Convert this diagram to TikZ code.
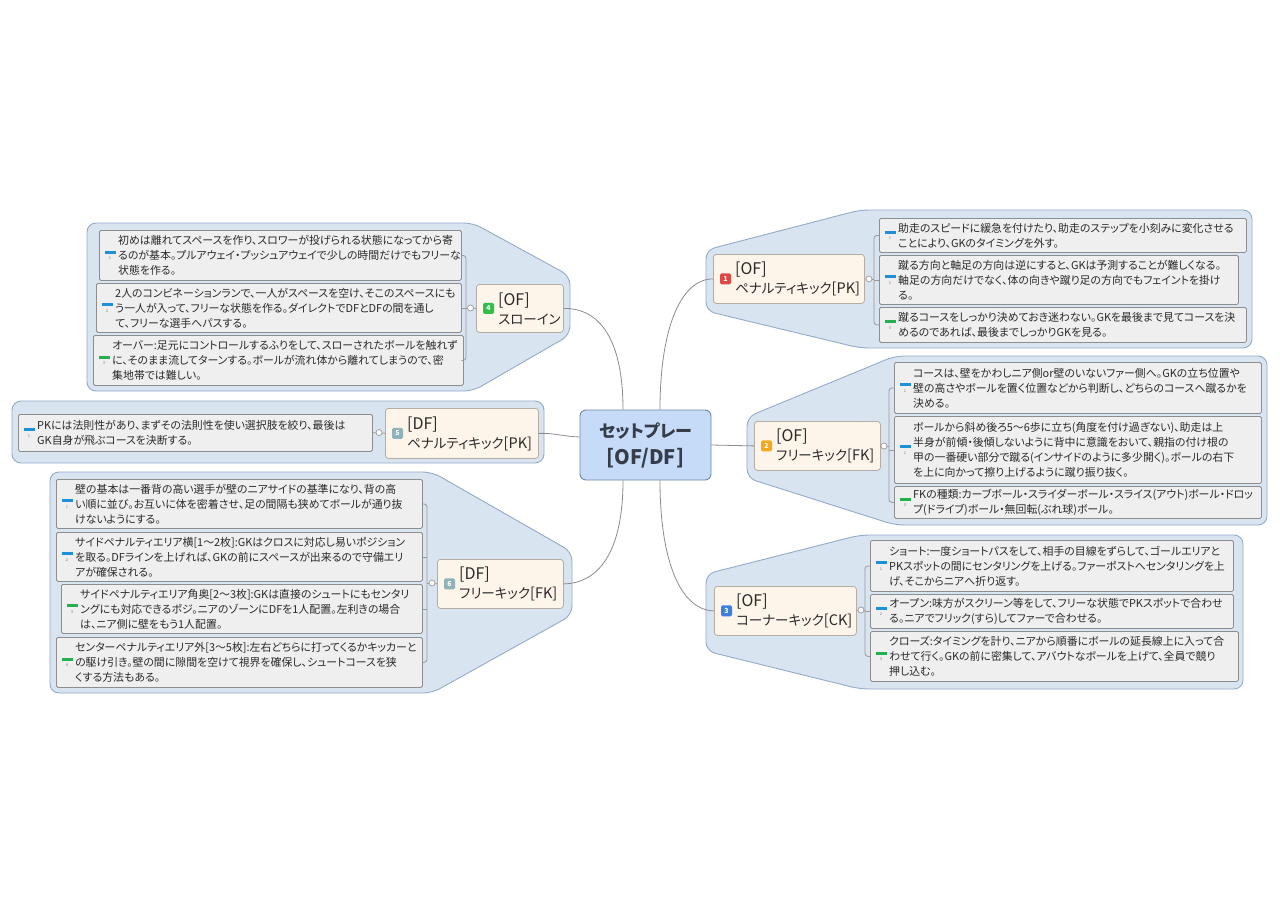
\documentclass[tikz,border=0pt]{standalone}
\usepackage{fontspec}
\setmainfont{Noto Sans CJK JP}[RawFeature={+palt}]
\usetikzlibrary{calc}
\definecolor{bndfill}{HTML}{D9E4F1}
\definecolor{bndline}{HTML}{93ABC8}
\definecolor{cfill}{HTML}{C6DBF8}
\definecolor{cline}{HTML}{6D87A8}
\definecolor{tfill}{HTML}{FDF4EA}
\definecolor{tline}{HTML}{B5ACA3}
\definecolor{sfill}{HTML}{EFEFEF}
\definecolor{sline}{HTML}{8E8E8E}
\definecolor{txt}{HTML}{2A2A2A}
\definecolor{ctxt}{HTML}{353D4A}
\definecolor{connc}{HTML}{8C8C8C}
\definecolor{brkc}{HTML}{9A9A9A}
\definecolor{barblue}{HTML}{1E90D8}
\definecolor{bargreen}{HTML}{22B14C}
\definecolor{icred}{HTML}{E04848}
\definecolor{icorange}{HTML}{F2A81D}
\definecolor{icblue}{HTML}{3D7EE0}
\definecolor{icgreen}{HTML}{2FBF4A}
\definecolor{icteal}{HTML}{8FB3B8}
\tikzset{
  bnd/.style={draw=bndline, fill=bndfill, line width=0.9pt, rounded corners=9pt},
  central/.style={draw=cline, fill=cfill, rounded corners=6pt, line width=0.9pt, inner sep=0pt,
    align=center, text=ctxt, font=\fontsize{17}{27}\selectfont\bfseries},
  topic/.style={draw=tline, fill=tfill, rounded corners=3pt, line width=0.8pt, inner sep=0pt},
  subbox/.style={draw=sline, fill=sfill, rounded corners=1.5pt, line width=0.8pt, inner sep=0pt},
  subtext/.style={align=left, font=\fontsize{10.9}{15}\selectfont, text=txt, inner sep=0pt},
  topictext/.style={align=left, font=\fontsize{13.5}{19}\selectfont, text=txt, inner sep=0pt},
  tico/.style={rounded corners=1.5pt, minimum size=11pt, inner sep=0pt, text=white,
    font=\fontsize{7}{7}\selectfont\bfseries},
  ibar/.style={minimum width=11pt, minimum height=3pt, inner sep=0pt},
  inum/.style={font=\fontsize{4}{4}\selectfont, text=gray, inner sep=0pt},
  conn/.style={draw=connc, line width=0.8pt},
  brk/.style={draw=brkc, line width=0.8pt, rounded corners=3pt},
  knob/.style={circle, draw=brkc, fill=white, minimum size=6pt, inner sep=0pt, line width=0.7pt},
}
\newcommand\tbig{\fontsize{16}{19}\selectfont}
\newcommand\tmid{\fontsize{14.5}{19}\selectfont}
\newcommand\mytopic[8]{%
  \node[topic, minimum width={#4-#2}, minimum height={#5-#3}, anchor=north west] (#1) at (#2,#3) {};
  \node[tico, fill=#6] (#1i) at ([xshift=12.5pt]#1.west) {#7};
  \node[topictext, anchor=west] (#1t) at ([xshift=22pt]#1.west) {#8};
}
\newcommand\mysub[8]{%
  \node[subbox, minimum width={#4-#2}, minimum height={#5-#3}, anchor=north west] (#1) at (#2,#3) {};
  \node[ibar, fill=#6] (#1b) at ([xshift=11pt,yshift=3pt]#1.west) {};
  \node[inum] (#1n) at ([xshift=11pt,yshift=-3pt]#1.west) {#7};
  \node[subtext, anchor=west] (#1t) at ([xshift=19pt]#1.west) {#8};
}
\begin{document}
\begin{tikzpicture}[x=1pt,y=-1pt]
\useasboundingbox (0,0) rectangle (1280,905);
\fill[white] (0,0) rectangle (1280,905);

% boundaries
\draw[bnd] (706,250) -- (860,210) -- (1252,210) -- (1252,348) -- (860,348) -- (706,311) -- cycle;
\draw[bnd] (747,417) -- (895,356) -- (1267,356) -- (1267,525) -- (895,525) -- (747,478) -- cycle;
\draw[bnd] (706,574) -- (860,535) -- (1243,535) -- (1243,689) -- (860,689) -- (706,651) -- cycle;
\draw[bnd] (87,223) -- (473,223) -- (570,276) -- (570,335) -- (473,391) -- (87,391) -- cycle;
\draw[bnd] (12,401) rectangle (544,463);
\draw[bnd] (50,472) -- (432,472) -- (572,552) -- (572,615) -- (432,693) -- (50,693) -- cycle;

% central
\node[central, minimum width=131pt, minimum height=70pt] (c) at (645.5,445) {セットプレー\\{}{\fontsize{20}{27}\selectfont[OF/DF]}};

% topics
\mytopic{t1}{713}{254}{864}{303}{icred}{1}{{\tbig[OF]}\\ペナルティキック{\tmid[PK]}}
\mytopic{t2}{754}{421}{880}{470}{icorange}{2}{{\tbig[OF]}\\フリーキック{\tmid[FK]}}
\mytopic{t3}{714}{586}{856}{635}{icblue}{3}{{\tbig[OF]}\\コーナーキック{\tmid[CK]}}
\mytopic{t4}{476}{284}{563}{332}{icgreen}{4}{{\tbig[OF]}\\スローイン}
\mytopic{t5}{385}{408}{538}{458}{icteal}{5}{{\tbig[DF]}\\ペナルティキック{\tmid[PK]}}
\mytopic{t6}{437}{559}{563}{608}{icteal}{6}{{\tbig[DF]}\\フリーキック{\tmid[FK]}}

% subtopics branch 1
\mysub{s11}{879}{218}{1246}{252}{barblue}{1}{助走のスピードに緩急を付けたり、助走のステップを小刻みに変化させる\\ことにより、GKのタイミングを外す。}
\mysub{s12}{879}{255}{1238}{304}{barblue}{2}{蹴る方向と軸足の方向は逆にすると、GKは予測することが難しくなる。\\軸足の方向だけでなく、体の向きや蹴り足の方向でもフェイントを掛け\\る。}
\mysub{s13}{879}{307}{1246}{342}{bargreen}{3}{蹴るコースをしっかり決めておき迷わない。GKを最後まで見てコースを決\\めるのであれば、最後までしっかりGKを見る。}

% subtopics branch 2
\mysub{s21}{894}{362}{1261}{413}{barblue}{1}{コースは、壁をかわしニア側or壁のいないファー側へ。GKの立ち位置や\\壁の高さやボールを置く位置などから判断し、どちらのコースへ蹴るかを\\決める。}
\mysub{s22}{894}{416}{1261}{483}{barblue}{2}{ボールから斜め後ろ5～6歩に立ち(角度を付け過ぎない)、助走は上\\半身が前傾・後傾しないように背中に意識をおいて、親指の付け根の\\甲の一番硬い部分で蹴る(インサイドのように多少開く)。ボールの右下\\を上に向かって擦り上げるように蹴り振り抜く。}
\mysub{s23}{894}{486}{1261}{518}{bargreen}{3}{FKの種類:カーブボール・スライダーボール・スライス(アウト)ボール・ドロッ\\プ(ドライブ)ボール・無回転(ぶれ球)ボール。}

% subtopics branch 3
\mysub{s31}{870}{540}{1233}{591}{barblue}{1}{ショート:一度ショートパスをして、相手の目線をずらして、ゴールエリアと\\PKスポットの間にセンタリングを上げる。ファーポストへセンタリングを上\\げ、そこからニアへ折り返す。}
\mysub{s32}{870}{594}{1233}{628}{barblue}{2}{オープン:味方がスクリーン等をして、フリーな状態でPKスポットで合わせ\\る。ニアでフリック(すら)してファーで合わせる。}
\mysub{s33}{870}{631}{1238}{681}{bargreen}{3}{クローズ:タイミングを計り、ニアから順番にボールの延長線上に入って合\\わせて行く。GKの前に密集して、アバウトなボールを上げて、全員で競り\\押し込む。}

% subtopics branch 4
\mysub{s41}{99}{230}{461}{280}{barblue}{1}{初めは離れてスペースを作り、スロワーが投げられる状態になってから寄\\るのが基本。プルアウェイ・プッシュアウェイで少しの時間だけでもフリーな\\状態を作る。}
\mysub{s42}{96}{283}{461}{332}{barblue}{2}{2人のコンビネーションランで、一人がスペースを空け、そこのスペースにも\\う一人が入って、フリーな状態を作る。ダイレクトでDFとDFの間を通し\\て、フリーな選手へパスする。}
\mysub{s43}{93}{335}{463}{385}{bargreen}{3}{オーバー:足元にコントロールするふりをして、スローされたボールを触れず\\に、そのまま流してターンする。ボールが流れ体から離れてしまうので、密\\集地帯では難しい。}

% subtopic branch 5
\mysub{s51}{18}{414}{372}{451}{barblue}{1}{PKには法則性があり、まずその法則性を使い選択肢を絞り、最後は\\GK自身が飛ぶコースを決断する。}

% subtopics branch 6
\mysub{s61}{56}{479}{422}{528}{barblue}{1}{壁の基本は一番背の高い選手が壁のニアサイドの基準になり、背の高\\い順に並び。お互いに体を密着させ、足の間隔も狭めてボールが通り抜\\けないようにする。}
\mysub{s62}{56}{532}{422}{581}{barblue}{2}{サイドペナルティエリア横[1～2枚]:GKはクロスに対応し易いポジション\\を取る。DFラインを上げれば、GKの前にスペースが出来るので守備エリ\\アが確保される。}
\mysub{s63}{61}{584}{422}{633}{bargreen}{3}{サイドペナルティエリア角奥[2～3枚]:GKは直接のシュートにもセンタリ\\ングにも対応できるポジ。ニアのゾーンにDFを1人配置。左利きの場合\\は、ニア側に壁をもう1人配置。}
\mysub{s64}{56}{637}{422}{687}{bargreen}{4}{センターペナルティエリア外[3～5枚]:左右どちらに打ってくるかキッカーと\\の駆け引き。壁の間に隙間を空けて視界を確保し、シュートコースを狭\\くする方法もある。}

% brackets and knobs
\coordinate (b1) at (874,279);
\node[knob] (k1) at (869,279) {};
\draw[brk] (s11.west) -| (b1) |- (s13.west);
\draw[brk] (b1 |- s12.west) -- (s12.west);
\draw[brk] (t1.east) -- (k1);
\draw[brk] (k1) -- (b1);

\coordinate (b2) at (889,446);
\node[knob] (k2) at (884,446) {};
\draw[brk] (s21.west) -| (b2) |- (s23.west);
\draw[brk] (b2 |- s22.west) -- (s22.west);
\draw[brk] (t2.east) -- (k2);
\draw[brk] (k2) -- (b2);

\coordinate (b3) at (865,610);
\node[knob] (k3) at (861,610) {};
\draw[brk] (s31.west) -| (b3) |- (s33.west);
\draw[brk] (b3 |- s32.west) -- (s32.west);
\draw[brk] (t3.east) -- (k3);
\draw[brk] (k3) -- (b3);

\coordinate (b4) at (466,308);
\node[knob] (k4) at (470.5,308) {};
\draw[brk] (s41.east) -| (b4) |- (s43.east);
\draw[brk] (b4 |- s42.east) -- (s42.east);
\draw[brk] (t4.west) -- (k4);
\draw[brk] (k4) -- (b4);

\node[knob] (k5) at (379,432.5) {};
\draw[brk] (s51.east) -- (k5);
\draw[brk] (k5) -- (t5.west);

\coordinate (b6) at (427,583);
\node[knob] (k6) at (432,583) {};
\draw[brk] (s61.east) -| (b6) |- (s64.east);
\draw[brk] (b6 |- s62.east) -- (s62.east);
\draw[brk] (b6 |- s63.east) -- (s63.east);
\draw[brk] (t6.west) -- (k6);
\draw[brk] (k6) -- (b6);

% central connectors
\draw[conn] ([xshift=14.5pt]c.north) .. controls (660,330) and (680,279) .. (t1.west);
\draw[conn] ([xshift=-22.5pt]c.north) .. controls (623,340) and (600,308) .. (t4.east);
\draw[conn] ([yshift=8pt]c.west) .. controls (560,436) and (555,433) .. (t5.east);
\draw[conn] (c.east) -- (t2.west);
\draw[conn] ([xshift=14.5pt]c.south) .. controls (660,560) and (680,610) .. (t3.west);
\draw[conn] ([xshift=-22.5pt]c.south) .. controls (623,550) and (600,583) .. (t6.east);
\end{tikzpicture}
\end{document}
